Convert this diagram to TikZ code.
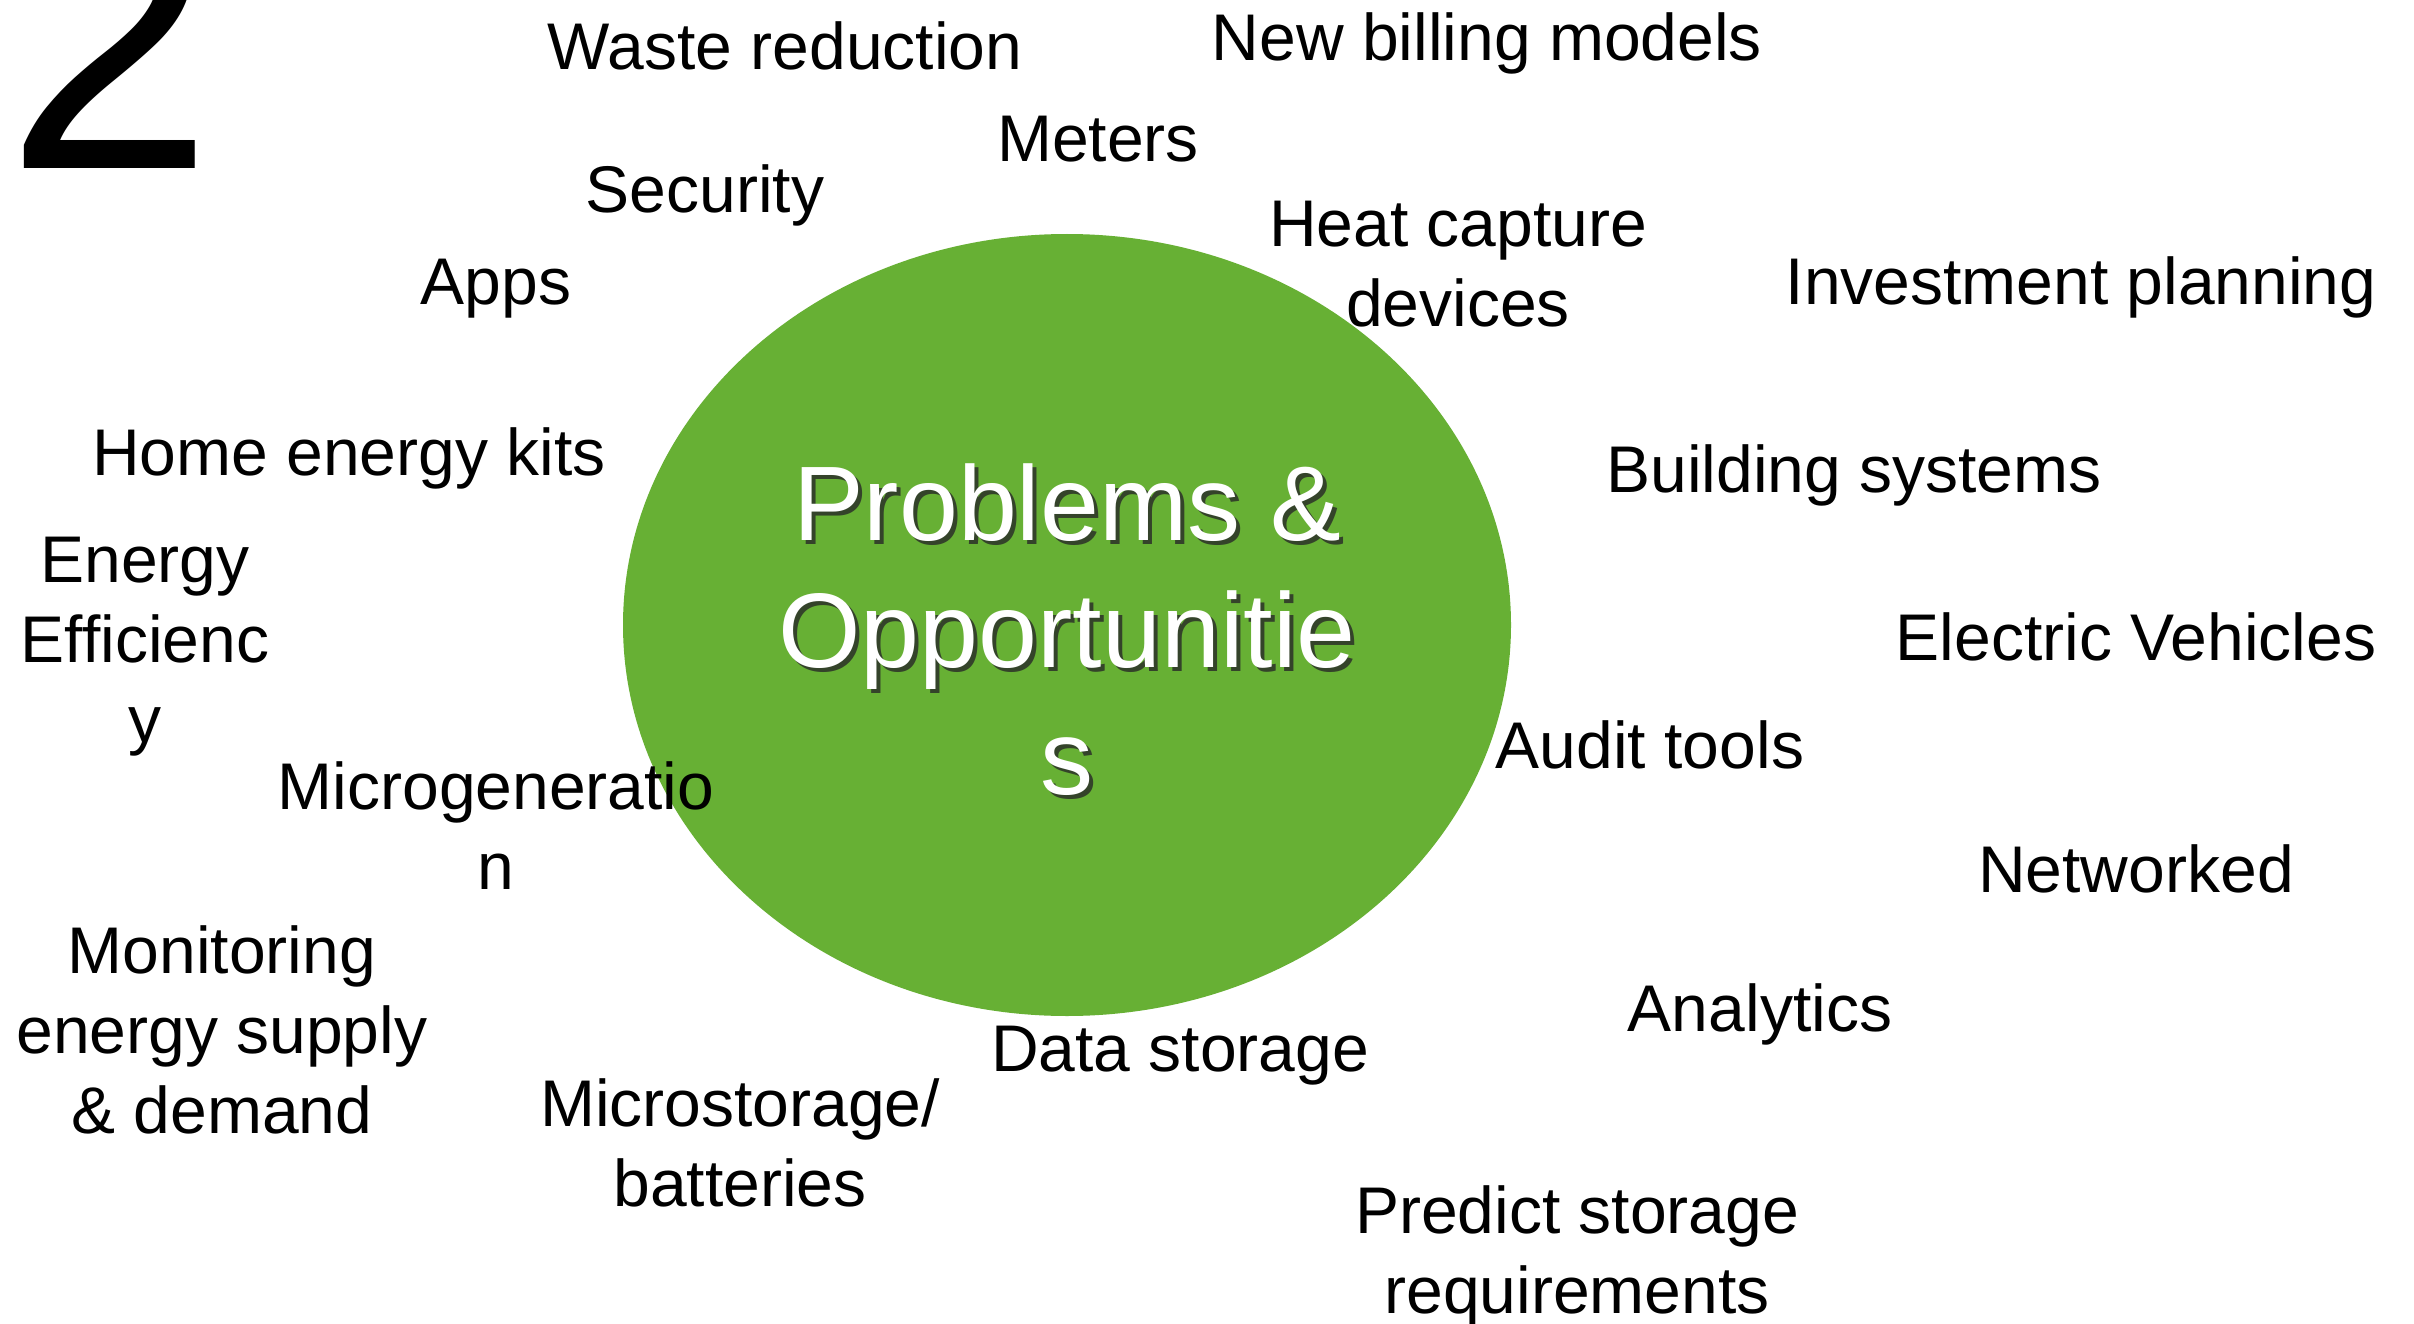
\documentclass[tikz,border=0pt]{standalone}
\usepackage{fontspec}
\setmainfont{Liberation Sans}
\definecolor{leaf}{RGB}{103,176,52}
\definecolor{shade}{RGB}{40,40,40}
\begin{document}
\begin{tikzpicture}[x=1pt,y=-1pt,
  lbl/.style={anchor=north,inner sep=0pt,align=center,font=\fontsize{66}{80}\selectfont},
  ttl/.style={anchor=north,inner sep=0pt,align=center,font=\fontsize{106}{127}\selectfont}]
\useasboundingbox (0,0) rectangle (2414,1324);
\fill[white] (0,0) rectangle (2414,1324);
\fill[leaf] (1067,625) ellipse [x radius=444, y radius=391];
% big digit
\node[anchor=base west,inner sep=0pt,font=\fontsize{375}{375}\selectfont] (two) at (5,169) {2};
% title with shadow
\node[ttl,text=shade,opacity=0.8] (titleshadow) at (1071,467) {Problems \&\\Opportunitie\\s};
\node[ttl,text=white] (title) at (1067,463) {Problems \&\\Opportunitie\\s};
% labels (north = baseline - 47)
\node[lbl] (waste) at (785,21) {Waste reduction};
\node[lbl] (billing) at (1487,12) {New billing models};
\node[lbl] (meters) at (1098,116) {Meters};
\node[lbl] (security) at (705,164) {Security};
\node[lbl] (apps) at (496,259) {Apps};
\node[lbl] (heat) at (1458,201) {Heat capture\\devices};
\node[lbl] (invest) at (2081,256) {Investment planning};
\node[lbl] (kits) at (349,427) {Home energy kits};
\node[lbl] (building) at (1854,444) {Building systems};
\node[lbl] (eff) at (145,537) {Energy\\Efficienc\\y};
\node[lbl] (ev) at (2136,612) {Electric Vehicles};
\node[lbl] (audit) at (1650,720) {Audit tools};
\node[lbl] (microgen) at (496,761) {Microgeneratio\\n};
\node[lbl] (net) at (2136,844) {Networked};
\node[lbl] (monitor) at (222,925) {Monitoring\\energy supply\\\& demand};
\node[lbl] (analytics) at (1760,983) {Analytics};
\node[lbl] (datastore) at (1180,1026) {Data storage};
\node[lbl] (microstore) at (740,1078) {Microstorage/\\batteries};
\node[lbl] (predict) at (1577,1185) {Predict storage\\requirements};
\end{tikzpicture}
\end{document}
